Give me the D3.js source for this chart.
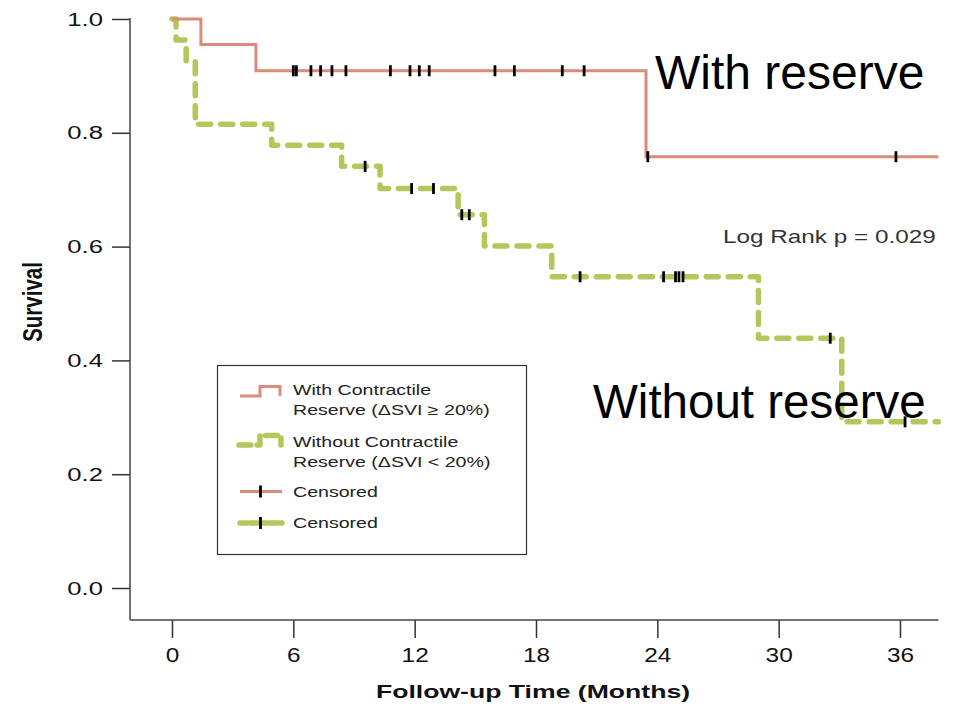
<!DOCTYPE html>
<html>
<head>
<meta charset="utf-8">
<script src="https://cdn.jsdelivr.net/npm/d3@7/dist/d3.min.js"></script>
<style>
  html, body { margin: 0; padding: 0; background: #fff; }
  svg { display: block; }
  text { font-family: "Liberation Sans", Arial, Helvetica, sans-serif; }
</style>
</head>
<body>
<svg id="chart" width="955" height="708"></svg>
<script>
// ---------------- data ----------------
const xTicks = [0, 6, 12, 18, 24, 30, 36];
const yTicks = [0.0, 0.2, 0.4, 0.6, 0.8, 1.0];
const followUpEnd = 37.9;

// With contractile reserve: event times and survival after each step
const withTimes = [0, 1.43, 4.15, 23.44];
const withSurv  = [1.0, 0.955, 0.909, 0.758];
const withCensored = [6.0, 6.15, 6.87, 7.35, 7.91, 8.6, 10.8, 11.77, 12.23, 12.72,
                      15.97, 16.93, 19.3, 20.38, 23.53, 35.8];

// Without contractile reserve
const withoutTimes = [0, 0.2, 0.7, 1.15, 4.93, 8.39, 10.29, 14.15, 15.45, 18.78, 29.0, 33.12];
const withoutSurv  = [1.0, 0.963, 0.926, 0.815, 0.778, 0.741, 0.702, 0.656, 0.601, 0.547, 0.439, 0.292];
const withoutCensored = [9.55, 11.85, 12.93, 14.33, 14.7, 20.18, 24.31, 24.9, 25.07, 25.27, 32.55, 36.25];

const legendLabels = [
  ["With Contractile", "Reserve (\u0394SVI \u2265 20%)"],
  ["Without Contractile", "Reserve (\u0394SVI < 20%)"],
  ["Censored"],
  ["Censored"]
];
const pValueLabel = "Log Rank p = 0.029";
const xTitle = "Follow-up Time (Months)";
const yTitle = "Survival";
const bigLabels = ["With reserve", "Without reserve"];

// ---------------- styles ----------------
const RED = "#d98d78";
const GREEN = "#b4c75b";
const SX = 1.35;  // horizontal stretch of original figure text

const svg = d3.select("#chart");
const x = d3.scaleLinear().domain([0, 36]).range([172, 900]);
const y = d3.scaleLinear().domain([0, 1]).range([588, 19]);

const axisLeftX = 130, axisBottomY = 620;

function stepPoints(times, surv) {
  const pts = times.map((t, i) => [t, surv[i]]);
  pts.push([followUpEnd, surv[surv.length - 1]]);
  return pts;
}
function survAt(times, surv, t) {
  let s = surv[0];
  for (let i = 0; i < times.length; i++) if (times[i] <= t) s = surv[i];
  return s;
}
const stepLine = d3.line().x(d => x(d[0])).y(d => y(d[1])).curve(d3.curveStepAfter);

// ---------------- axes ----------------
const gx = svg.append("g").attr("transform", `translate(0,${axisBottomY})`)
  .call(d3.axisBottom(x).tickValues(xTicks).tickFormat(d3.format("d")).tickSize(18).tickSizeOuter(0).tickPadding(10));
gx.select(".domain").remove();
gx.selectAll(".tick line").attr("stroke", "#333").attr("stroke-width", 1.5);
gx.selectAll(".tick text").attr("font-size", 19.5).attr("fill", "#111")
  .attr("transform", `scale(1.25,1)`).attr("x", 0);

const gy = svg.append("g").attr("transform", `translate(${axisLeftX},0)`)
  .call(d3.axisLeft(y).tickValues(yTicks).tickFormat(d3.format(".1f")).tickSize(18).tickSizeOuter(0).tickPadding(9));
gy.select(".domain").remove();
gy.selectAll(".tick line").attr("stroke", "#333").attr("stroke-width", 1.5);
gy.selectAll(".tick text").attr("font-size", 19).attr("fill", "#111")
  .attr("x", -27 / SX).attr("transform", `scale(${SX},1)`);

// L-shaped frame
svg.append("line").attr("x1", axisLeftX).attr("x2", axisLeftX)
  .attr("y1", y(1) - 1).attr("y2", axisBottomY).attr("stroke", "#444").attr("stroke-width", 1.5);
svg.append("line").attr("x1", axisLeftX).attr("x2", x(followUpEnd))
  .attr("y1", axisBottomY).attr("y2", axisBottomY).attr("stroke", "#444").attr("stroke-width", 1.5);

// axis titles
svg.append("text").attr("transform", `translate(533,698) scale(1.4,1)`)
  .attr("text-anchor", "middle").attr("font-size", 19).attr("font-weight", "bold").attr("fill", "#111")
  .text(xTitle);
svg.append("text").attr("transform", `translate(42,302) scale(${SX},1) rotate(-90)`)
  .attr("text-anchor", "middle").attr("font-size", 20.5).attr("font-weight", "bold").attr("fill", "#111")
  .text(yTitle);

// ---------------- curves ----------------
svg.append("path").attr("d", stepLine(stepPoints(withoutTimes, withoutSurv)))
  .attr("fill", "none").attr("stroke", GREEN).attr("stroke-width", 5.5)
  .attr("stroke-dasharray", "12,10").attr("stroke-linecap", "round").attr("stroke-linejoin", "round");
svg.append("path").attr("d", stepLine(stepPoints(withTimes, withSurv)))
  .attr("fill", "none").attr("stroke", RED).attr("stroke-width", 3);

function censorMarks(times, stepT, stepS) {
  svg.append("g").selectAll("line").data(times).join("line")
    .attr("x1", d => x(d)).attr("x2", d => x(d))
    .attr("y1", d => y(survAt(stepT, stepS, d)) - 5.5)
    .attr("y2", d => y(survAt(stepT, stepS, d)) + 5.5)
    .attr("stroke", "#000").attr("stroke-width", 2.8);
}
censorMarks(withCensored, withTimes, withSurv);
censorMarks(withoutCensored, withoutTimes, withoutSurv);

// ---------------- legend ----------------
const lg = svg.append("g");
lg.append("rect").attr("x", 217.5).attr("y", 365.5).attr("width", 309).attr("height", 189)
  .attr("fill", "#fff").attr("stroke", "#333").attr("stroke-width", 1.2);
lg.append("path").attr("d", "M240,396 H260 V386.5 H280 V396")
  .attr("fill", "none").attr("stroke", RED).attr("stroke-width", 3);
lg.append("path").attr("d", "M239,445 H260 V435.5 H281 V445")
  .attr("fill", "none").attr("stroke", GREEN).attr("stroke-width", 5.5)
  .attr("stroke-dasharray", "12,6").attr("stroke-linecap", "round").attr("stroke-linejoin", "round");
lg.append("line").attr("x1", 240).attr("x2", 282).attr("y1", 491.5).attr("y2", 491.5)
  .attr("stroke", RED).attr("stroke-width", 3);
lg.append("line").attr("x1", 240).attr("x2", 282).attr("y1", 523).attr("y2", 523)
  .attr("stroke", GREEN).attr("stroke-width", 5.5).attr("stroke-dasharray", "7,3").attr("stroke-linecap", "round");
[491.5, 523].forEach(cy => {
  lg.append("line").attr("x1", 260.5).attr("x2", 260.5).attr("y1", cy - 6).attr("y2", cy + 6)
    .attr("stroke", "#000").attr("stroke-width", 2.8);
});
const legendRows = [[390, 410], [442.3, 462.3], [491.7], [523.3]];
legendLabels.forEach((lines, i) => {
  lines.forEach((s, j) => {
    lg.append("text").attr("transform", `translate(293,${legendRows[i][j] + 5}) scale(${SX},1)`)
      .attr("font-size", 14.5).attr("fill", "#222").text(s);
  });
});

// ---------------- annotations ----------------
svg.append("text").attr("transform", `translate(723,243) scale(${SX},1)`)
  .attr("font-size", 18).attr("fill", "#333").text(pValueLabel);

svg.append("text").attr("x", 655).attr("y", 89).attr("font-size", 48).attr("fill", "#000").text(bigLabels[0]);
svg.append("text").attr("x", 593).attr("y", 418).attr("font-size", 47.5).attr("fill", "#000").text(bigLabels[1]);
</script>
</body>
</html>
